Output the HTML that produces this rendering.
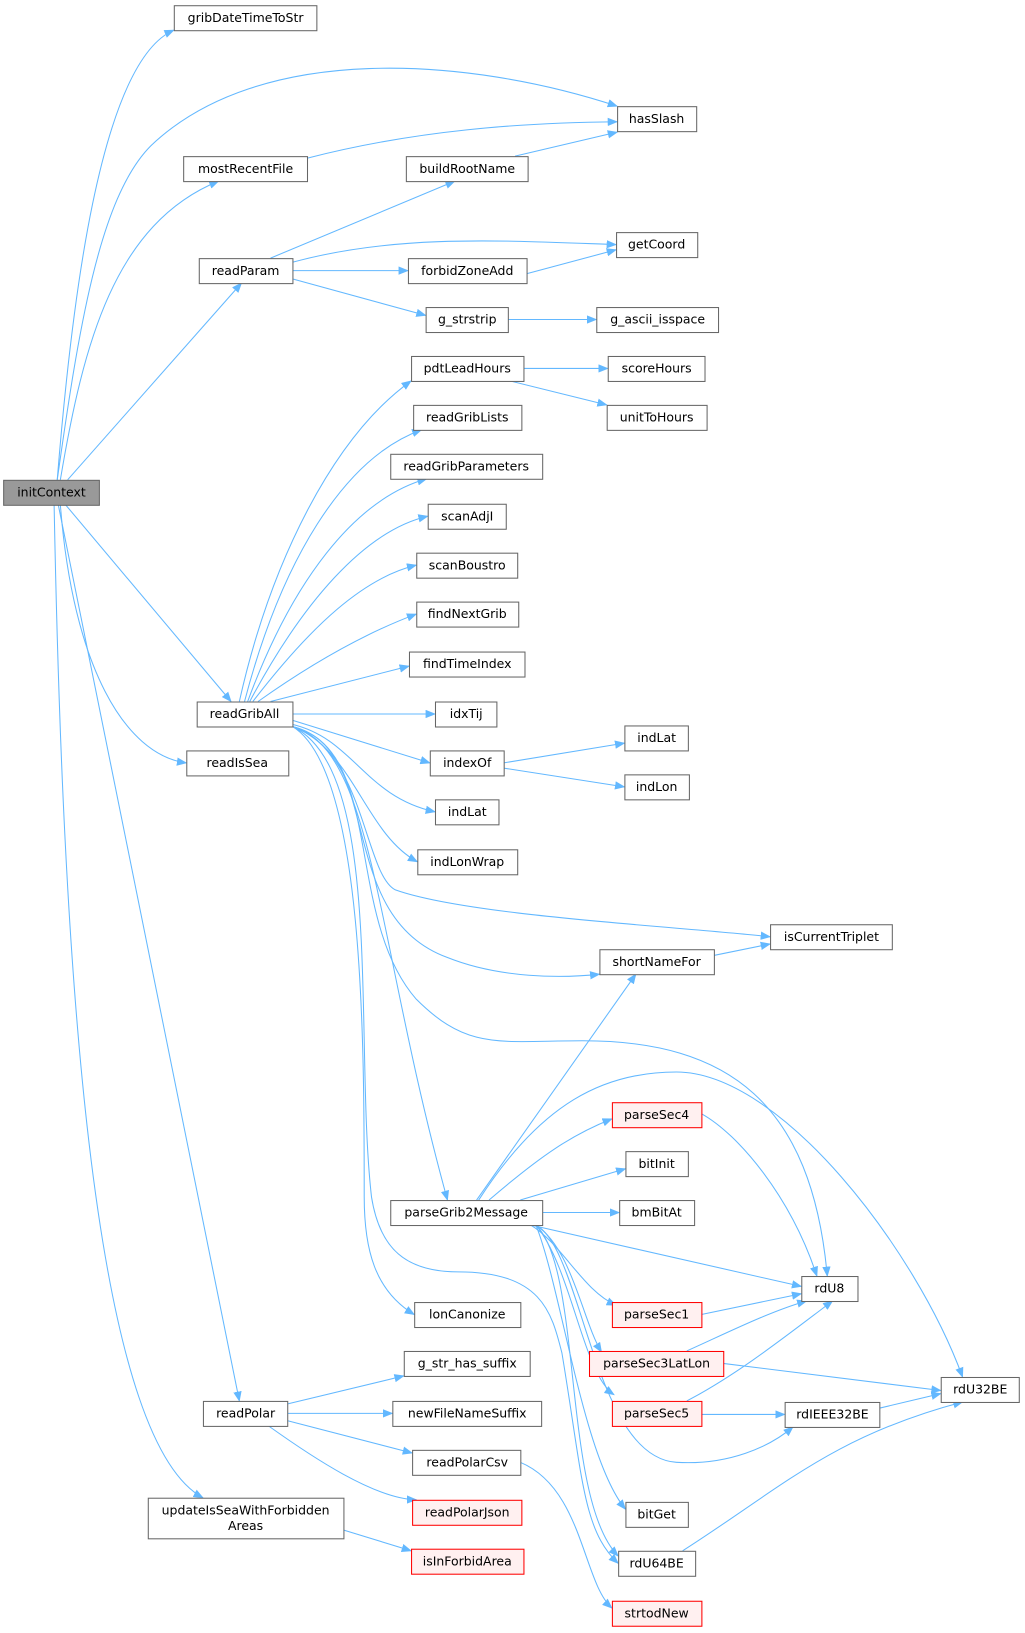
<!DOCTYPE html>
<html><head><meta charset="utf-8"><style>
html,body{margin:0;padding:0;background:#fff;}
svg{display:block}
text{font-family:"DejaVu Sans","Liberation Sans",sans-serif;font-size:12px;fill:#000;text-anchor:middle}
.b{fill:#fff;stroke:#666;stroke-width:1}
.r{fill:#fff0f0;stroke:#f00;stroke-width:1}
.e{fill:none;stroke:#63b8ff;stroke-width:1}
</style></head><body>
<svg width="1025" height="1633" viewBox="0 0 985 1569" preserveAspectRatio="none">
<defs><marker id="a" markerWidth="10" markerHeight="8" refX="9" refY="4" orient="auto" markerUnits="userSpaceOnUse"><path d="M0,0 L10,4 L0,8 z" fill="#63b8ff"/></marker></defs>
<g class="e" marker-end="url(#a)">
<path d="M55,461 C68,300 95,60 167,29"/>
<path d="M55,461 C75,320 95,190 145,140 C250,40 450,55 593,102"/>
<path d="M58,461 C80,330 110,215 210,174"/>
<path d="M65,461 L232,272"/>
<path d="M63,485 L222,674"/>
<path d="M58,485 C70,640 120,725 179,733"/>
<path d="M56,485 L230,1346"/>
<path d="M52,485 C60,900 85,1380 195,1439"/>
<path d="M295,152 C400,125 500,118 593,117"/>
<path d="M495,150 L593,127"/>
<path d="M260,248 L437,174"/>
<path d="M281,252 C380,225 480,231 592,235"/>
<path d="M281,260 L392,260"/>
<path d="M281,268 L409,303"/>
<path d="M506,263 L592,240"/>
<path d="M488,307 L573,307"/>
<path d="M503,354 L584,354"/>
<path d="M490,366 L583,389"/>
<path d="M230,674 C260,540 320,420 395,366"/>
<path d="M235,674 C270,540 330,440 405,413"/>
<path d="M238,674 C280,560 340,480 410,460"/>
<path d="M240,674 C290,580 350,510 411,496"/>
<path d="M243,674 C300,600 350,555 400,543"/>
<path d="M248,674 C310,630 360,605 400,590"/>
<path d="M260,674 L393,640"/>
<path d="M281,686 L418,686"/>
<path d="M281,692 L413,733"/>
<path d="M281,696 C340,710 350,765 418,780"/>
<path d="M281,698 C340,720 350,800 401,828"/>
<path d="M281,698 C350,720 350,840 380,855 C450,880 650,890 740,900"/>
<path d="M281,698 C370,720 320,880 430,920 C480,940 540,940 576,936"/>
<path d="M281,698 C370,720 330,880 400,960 C450,1010 480,1000 560,1000 C700,1000 780,1060 795,1226"/>
<path d="M281,698 C360,720 360,900 430,1153"/>
<path d="M281,698 C370,740 340,1000 357,1150 C365,1200 390,1222 440,1222 C520,1222 530,1260 540,1300 C560,1420 560,1470 594,1502"/>
<path d="M281,698 C350,740 350,1000 350,1150 C350,1200 360,1240 398,1263"/>
<path d="M484,733 L600,714"/>
<path d="M484,738 L600,756"/>
<path d="M686,918 L740,907"/>
<path d="M458,1153 L611,936"/>
<path d="M460,1153 C520,1060 580,1030 650,1030 C750,1030 880,1200 925,1323"/>
<path d="M470,1153 C520,1110 550,1090 588,1075"/>
<path d="M500,1153 L601,1123"/>
<path d="M521,1165 L595,1165"/>
<path d="M510,1177 L770,1236"/>
<path d="M510,1177 C540,1195 560,1240 592,1254"/>
<path d="M515,1177 C550,1200 560,1270 578,1299"/>
<path d="M515,1177 C550,1220 560,1320 590,1340"/>
<path d="M515,1177 C560,1200 570,1400 650,1405 C700,1408 740,1390 762,1371"/>
<path d="M515,1177 C540,1240 560,1400 601,1450"/>
<path d="M515,1177 C560,1220 540,1440 594,1495"/>
<path d="M674,1070 C710,1090 760,1150 785,1226"/>
<path d="M674,1263 L770,1243"/>
<path d="M660,1298 C700,1280 740,1260 775,1250"/>
<path d="M695,1310 L904,1336"/>
<path d="M660,1346 C710,1320 760,1280 800,1250"/>
<path d="M674,1359 L754,1359"/>
<path d="M845,1353 L904,1339"/>
<path d="M656,1490 C750,1430 800,1380 925,1347"/>
<path d="M276,1349 L388,1322"/>
<path d="M276,1358 L377,1358"/>
<path d="M276,1365 L396,1396"/>
<path d="M258,1370 C300,1400 360,1440 400,1441"/>
<path d="M500,1405 C560,1430 560,1520 588,1545"/>
<path d="M330,1470 L395,1490"/>
</g>
<rect x="3.5" y="461.5" width="92" height="24" fill="#999" stroke="#666"/><text x="49.5" y="477">initContext</text>
<g>
<rect class="b" x="167.5" y="5.5" width="137" height="24"/><text x="236" y="21">gribDateTimeToStr</text>
<rect class="b" x="593.5" y="102.5" width="76" height="24"/><text x="631" y="118">hasSlash</text>
<rect class="b" x="176.5" y="150.5" width="119" height="24"/><text x="236" y="166">mostRecentFile</text>
<rect class="b" x="390.5" y="150.5" width="117" height="24"/><text x="449" y="166">buildRootName</text>
<rect class="b" x="592.5" y="223.5" width="78" height="24"/><text x="631" y="239">getCoord</text>
<rect class="b" x="191.5" y="248.5" width="90" height="24"/><text x="236" y="264">readParam</text>
<rect class="b" x="392.5" y="248.5" width="114" height="24"/><text x="449" y="264">forbidZoneAdd</text>
<rect class="b" x="409.5" y="295.5" width="79" height="24"/><text x="449" y="311">g_strstrip</text>
<rect class="b" x="573.5" y="295.5" width="117" height="24"/><text x="632" y="311">g_ascii_isspace</text>
<rect class="b" x="395.5" y="342.5" width="108" height="24"/><text x="449" y="358">pdtLeadHours</text>
<rect class="b" x="584.5" y="342.5" width="93" height="24"/><text x="631" y="358">scoreHours</text>
<rect class="b" x="397.5" y="389.5" width="104" height="24"/><text x="449" y="405">readGribLists</text>
<rect class="b" x="583.5" y="389.5" width="96" height="24"/><text x="631" y="405">unitToHours</text>
<rect class="b" x="375.5" y="436.5" width="146" height="24"/><text x="448" y="452">readGribParameters</text>
<rect class="b" x="411.5" y="484.5" width="75" height="24"/><text x="449" y="500">scanAdjI</text>
<rect class="b" x="400.5" y="531.5" width="97" height="24"/><text x="449" y="547">scanBoustro</text>
<rect class="b" x="400.5" y="578.5" width="98" height="24"/><text x="449" y="594">findNextGrib</text>
<rect class="b" x="393.5" y="626.5" width="111" height="24"/><text x="449" y="642">findTimeIndex</text>
<rect class="b" x="189.5" y="674.5" width="92" height="24"/><text x="235" y="690">readGribAll</text>
<rect class="b" x="418.5" y="674.5" width="59" height="24"/><text x="448" y="690">idxTij</text>
<rect class="b" x="600.5" y="697.5" width="61" height="24"/><text x="631" y="713">indLat</text>
<rect class="b" x="413.5" y="721.5" width="71" height="24"/><text x="449" y="737">indexOf</text>
<rect class="b" x="179.5" y="721.5" width="98" height="24"/><text x="228" y="737">readIsSea</text>
<rect class="b" x="600.5" y="744.5" width="62" height="24"/><text x="631" y="760">indLon</text>
<rect class="b" x="418.5" y="768.5" width="61" height="24"/><text x="449" y="784">indLat</text>
<rect class="b" x="401.5" y="816.5" width="96" height="24"/><text x="449" y="832">indLonWrap</text>
<rect class="b" x="740.5" y="888.5" width="117" height="24"/><text x="799" y="904">isCurrentTriplet</text>
<rect class="b" x="576.5" y="912.5" width="110" height="24"/><text x="631" y="928">shortNameFor</text>
<rect class="r" x="588.5" y="1059.5" width="86" height="24"/><text x="631" y="1075">parseSec4</text>
<rect class="b" x="601.5" y="1106.5" width="60" height="24"/><text x="631" y="1122">bitInit</text>
<rect class="b" x="375.5" y="1153.5" width="146" height="24"/><text x="448" y="1169">parseGrib2Message</text>
<rect class="b" x="595.5" y="1153.5" width="72" height="24"/><text x="631" y="1169">bmBitAt</text>
<rect class="b" x="770.5" y="1226.5" width="54" height="24"/><text x="797" y="1242">rdU8</text>
<rect class="r" x="588.5" y="1251.5" width="86" height="24"/><text x="631" y="1267">parseSec1</text>
<rect class="b" x="398.5" y="1251.5" width="102" height="24"/><text x="449" y="1267">lonCanonize</text>
<rect class="b" x="388.5" y="1298.5" width="121" height="24"/><text x="449" y="1314">g_str_has_suffix</text>
<rect class="r" x="566.5" y="1298.5" width="129" height="24"/><text x="631" y="1314">parseSec3LatLon</text>
<rect class="b" x="904.5" y="1323.5" width="75" height="24"/><text x="942" y="1339">rdU32BE</text>
<rect class="b" x="195.5" y="1346.5" width="81" height="24"/><text x="236" y="1362">readPolar</text>
<rect class="b" x="377.5" y="1346.5" width="143" height="24"/><text x="449" y="1362">newFileNameSuffix</text>
<rect class="r" x="588.5" y="1346.5" width="86" height="24"/><text x="631" y="1362">parseSec5</text>
<rect class="b" x="754.5" y="1347.5" width="91" height="24"/><text x="800" y="1363">rdIEEE32BE</text>
<rect class="b" x="396.5" y="1393.5" width="104" height="24"/><text x="449" y="1409">readPolarCsv</text>
<rect class="b" x="142.5" y="1439.5" width="188" height="39"/><text x="236" y="1455">updateIsSeaWithForbidden</text><text x="236" y="1470">Areas</text>
<rect class="r" x="396.5" y="1441.5" width="105" height="24"/><text x="449" y="1457">readPolarJson</text>
<rect class="b" x="601.5" y="1443.5" width="60" height="24"/><text x="631" y="1459">bitGet</text>
<rect class="r" x="395.5" y="1488.5" width="108" height="24"/><text x="449" y="1504">isInForbidArea</text>
<rect class="b" x="594.5" y="1490.5" width="74" height="24"/><text x="631" y="1506">rdU64BE</text>
<rect class="r" x="588.5" y="1538.5" width="86" height="24"/><text x="631" y="1554">strtodNew</text>
</g>
</svg>
</body></html>
